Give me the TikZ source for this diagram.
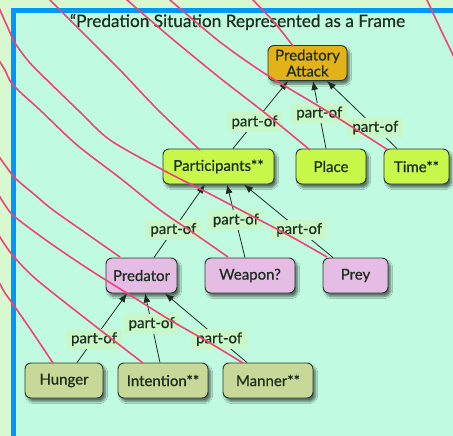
\documentclass[tikz,border=0pt]{standalone}
\usepackage{fontspec}
\setmainfont{Lato}
\newfontfamily\slotfont[FakeBold=0.6]{Lato}
\usetikzlibrary{arrows.meta,shadows.blur}

\definecolor{marginbg}{HTML}{D8F8D0}
\definecolor{panelbg}{HTML}{C0FAE0}
\definecolor{framebl}{HTML}{0096FF}
\definecolor{ink}{HTML}{1E2E1E}
\definecolor{boxline}{HTML}{283828}
\definecolor{goldfill}{HTML}{E2B218}
\definecolor{limefill}{HTML}{C8F84A}
\definecolor{lilacfill}{HTML}{E4BCE4}
\definecolor{olivefill}{HTML}{C8D898}
\definecolor{labbg}{HTML}{C8F8C8}
\definecolor{crvpink}{HTML}{EE4477}

\tikzset{
  box/.style={draw=boxline, line width=0.9pt, rounded corners=6pt, text=ink,
    font=\slotfont\fontsize{15}{17}\selectfont, inner sep=0pt, minimum height=35pt,
    align=center,
    blur shadow={shadow xshift=2.5pt, shadow yshift=-3.5pt, shadow blur steps=7,
      shadow opacity=55}},
  lab/.style={fill=labbg, text=ink, font=\slotfont\fontsize{15}{17}\selectfont,
    inner xsep=5pt, inner ysep=0pt, minimum height=20pt},
  link/.style={draw=ink, line width=0.8pt, -{Latex[length=9pt,width=7pt]}},
  crv/.style={draw=crvpink, line width=1.6pt},
}

\begin{document}
\begin{tikzpicture}[x=1pt,y=-1pt]
\useasboundingbox (0,0) rectangle (453,436);
\begin{scope}
\clip (0,0) rectangle (453,436);

% page and framed panel
\fill[marginbg] (0,0) rectangle (453,436);
\fill[panelbg] (13.5,10.8) rectangle (460,440);
\draw[framebl, line width=5pt] (13.5,440) -- (13.5,10.8) -- (460,10.8);

\node[font=\slotfont\fontsize{17.2}{20}\selectfont, text=ink, anchor=base] (title)
  at (237.5,27) {“Predation Situation Represented as a Frame};

% frame slots
\node[box, fill=goldfill, minimum width=79pt] (pa) at (307.5,63)
  {Predatory\\[-1pt]Attack};
\node[box, fill=limefill, minimum width=111pt] (part)  at (218.5,166.5) {Participants**};
\node[box, fill=limefill, minimum width=70pt]  (place) at (331,166.5)   {Place};
\node[box, fill=limefill, minimum width=65pt]  (time)  at (416.5,166.5) {Time**};
\node[box, fill=lilacfill, minimum width=71pt] (pred)  at (141.5,275.5) {Predator};
\node[box, fill=lilacfill, minimum width=90pt] (weap)  at (250,275.5)   {Weapon?};
\node[box, fill=lilacfill, minimum width=65pt] (prey)  at (355.5,275.5) {Prey};
\node[box, fill=olivefill, minimum width=78pt] (hung)  at (64,380.5)    {Hunger};
\node[box, fill=olivefill, minimum width=90pt] (inten) at (163,380.5)   {Intention**};
\node[box, fill=olivefill, minimum width=90pt] (mann)  at (268,380.5)   {Manner**};

% part-of links
\draw[link] ([xshift=14.5pt]part.north) -- node[lab, pos=0.39] {part-of} ([xshift=-19.5pt]pa.south);
\draw[link] ([xshift=-5pt]place.north)  -- node[lab, pos=0.52] {part-of} ([xshift=5.5pt]pa.south);
\draw[link] ([xshift=-19.5pt]time.north) -- node[lab, pos=0.31] {part-of} ([xshift=19.5pt]pa.south);

\draw[link] ([xshift=12.5pt]pred.north) -- node[lab, pos=0.38] {part-of} ([xshift=-13.5pt]part.south);
\draw[link] ([xshift=-5pt]weap.north)   -- node[lab, pos=0.51] {part-of} ([xshift=8.5pt]part.south);
\draw[link] ([xshift=-22.5pt]prey.north) -- node[lab, pos=0.38] {part-of} ([xshift=25.5pt]part.south);

\draw[link] ([xshift=13pt]hung.north)   -- node[lab, pos=0.34] {part-of} ([xshift=-14.5pt]pred.south);
\draw[link] ([xshift=-3pt]inten.north)  -- node[lab, pos=0.56] {part-of} ([xshift=3.5pt]pred.south);
\draw[link] ([xshift=-21pt]mann.north)  -- node[lab, pos=0.34] {part-of} ([xshift=23.5pt]pred.south);

% sweeping pink strokes running onto the slots
\draw[crv] plot[smooth] coordinates {(40,-10) (50,0) (85,35) (120,70) (158,110) (200,150)};
\draw[crv] plot[smooth] coordinates {(117,-9) (127,0) (170,37) (220,78) (265,113) (310,150)};
\draw[crv] plot[smooth] coordinates {(159,-9) (170,0) (220,42) (267,75) (330,113) (388,150)};
\draw[crv] plot[smooth] coordinates {(245,-9) (253,0) (274,22) (293,46)};
\draw[crv] plot[smooth] coordinates {(422,-10) (427,0) (440,28) (453,55) (460,70)};
\draw[crv] plot[smooth] coordinates {(-4,0) (0,10) (8,28) (15,43) (30,63) (50,83) (80,112)
  (110,140) (163,170) (210,194) (250,215) (290,236) (327,257)};
\draw[crv] plot[smooth] coordinates {(-5,52) (0,62) (5,70) (13,85) (40,110) (77,145)
  (120,178) (160,210) (195,234) (228,257)};
\draw[crv] plot[smooth] coordinates {(-5,150) (0,158) (5,165) (15,178) (35,195) (53,210)
  (90,236) (120,257)};
\draw[crv] plot[smooth] coordinates {(-5,190) (0,197) (5,205) (15,217) (50,243) (90,270)
  (130,295) (170,320) (210,343) (243,363)};
\draw[crv] plot[smooth] coordinates {(-5,230) (0,237) (5,245) (15,258) (37,280) (90,322)
  (143,363)};
\draw[crv] plot[smooth] coordinates {(-5,275) (0,284) (5,293) (15,307) (35,336) (53,363)};
\end{scope}
\end{tikzpicture}
\end{document}
